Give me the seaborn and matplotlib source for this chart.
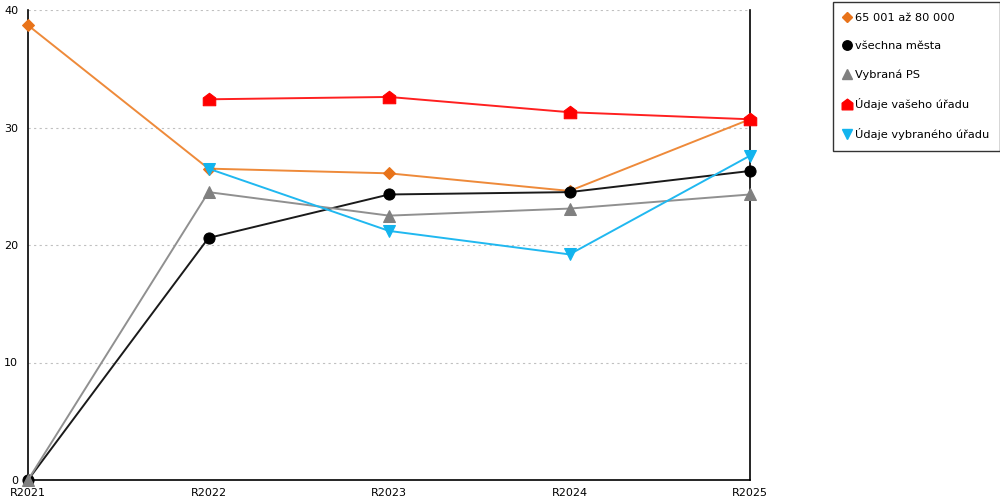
import matplotlib
matplotlib.use("Agg")
import matplotlib.pyplot as plt
import seaborn as sns
import numpy as np
import pandas as pd
from matplotlib.path import Path
from matplotlib.lines import Line2D

years = ["R2021", "R2022", "R2023", "R2024", "R2025"]
s_orange = [38.7, 26.5, 26.1, 24.6, 30.7]
s_black = [0.0, 20.6, 24.3, 24.5, 26.3]
s_gray = [0.0, 24.5, 22.5, 23.1, 24.3]
s_red = [np.nan, 32.4, 32.6, 31.3, 30.7]
s_blue = [np.nan, 26.5, 21.2, 19.2, 27.6]
labels = ["65 001 až 80 000", "všechna města", "Vybraná PS",
          "Údaje vašeho úřadu", "Údaje vybraného úřadu"]

house = Path([(-1, -1), (1, -1), (1, 0.25), (0, 1), (-1, 0.25), (-1, -1)],
             [Path.MOVETO, Path.LINETO, Path.LINETO, Path.LINETO, Path.LINETO, Path.CLOSEPOLY])

series = [s_orange, s_black, s_gray, s_red, s_blue]
colors = ["#E8731A", "#000000", "#808080", "#FF0000", "#12B4EE"]
linecolors = ["#EE8A3A", "#1a1a1a", "#909090", "#FF2020", "#20B8F0"]
markers = ["D", "o", "^", house, "v"]
msizes = [6, 8, 9, 9, 9]

sns.set_style("white")
plt.rcParams['font.family'] = ['DejaVu Sans']
plt.rcParams['text.color'] = 'black'
plt.rcParams['xtick.color'] = 'black'
plt.rcParams['ytick.color'] = 'black'

fig = plt.figure(figsize=(10, 5), dpi=100)
ax = fig.add_axes([0.028, 0.04, 0.722, 0.94])

x = np.arange(len(years))
for s, c, lc, m, ms, lab in zip(series, colors, linecolors, markers, msizes, labels):
    df = pd.DataFrame({"x": x, "y": s}).dropna()
    sns.lineplot(data=df, x="x", y="y", ax=ax, color=lc, linewidth=1.4,
                 marker=m, markersize=ms, markerfacecolor=c, markeredgecolor=c,
                 clip_on=False, zorder=3)

ax.set_xlim(0, 4)
ax.set_ylim(0, 40)
ax.set_xticks(x)
ax.set_xticklabels(years, fontsize=8)
ax.set_xticks(x[:-1] + 0.5, minor=True)
ax.set_yticks([0, 10, 20, 30, 40])
ax.set_yticklabels(["0", "10", "20", "30", "40"], fontsize=8)
ax.tick_params(axis='x', which='both', direction='inout', length=8, width=1, color='black', pad=2)
ax.tick_params(axis='y', direction='out', length=5, width=1, color='black', pad=2)
ax.set_xlabel("")
ax.set_ylabel("")
for yv in [10, 20, 30, 40]:
    ax.axhline(yv, color="#C0C0C0", linestyle=(0, (2, 3)), linewidth=0.8, zorder=1)
ax.spines['top'].set_visible(False)
for sp in ['left', 'bottom', 'right']:
    ax.spines[sp].set_color('black')
    ax.spines[sp].set_linewidth(1.2)

handles = [Line2D([], [], linestyle='none', marker=m, markersize=ms * 0.85, color=c)
           for m, ms, c in zip(markers, msizes, colors)]
leg = fig.legend(handles, labels, loc='upper left', bbox_to_anchor=(0.833, 0.996),
                 frameon=True, fontsize=8.2, labelspacing=1.6, handlelength=0.6,
                 handletextpad=0.35, borderpad=0.95, fancybox=False, borderaxespad=0)
leg.get_frame().set_edgecolor('black')
leg.get_frame().set_linewidth(1)

fig.savefig("out.png", dpi=100)
